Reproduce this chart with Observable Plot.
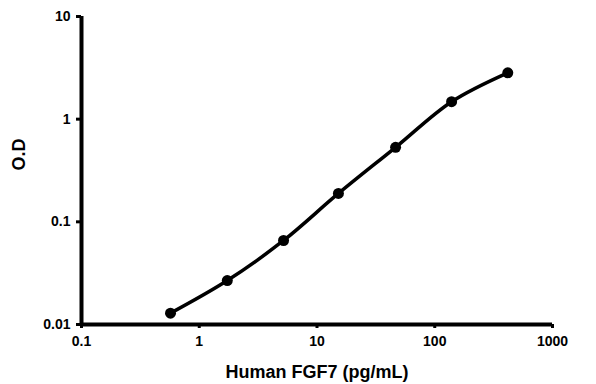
<!DOCTYPE html>
<html><head><meta charset="utf-8">
<script src="https://cdn.jsdelivr.net/npm/d3@7"></script>
<script src="https://cdn.jsdelivr.net/npm/@observablehq/plot@0.6"></script>
<style>
body{margin:0;background:#fff;}
svg{font-family:"Liberation Sans",Arial,sans-serif;}
</style></head><body>
<div id="chart"></div>
<script>
const concentration = [0.57, 1.73, 5.2, 15.2, 46.5, 139, 417];
const od = [0.0129, 0.0268, 0.0658, 0.189, 0.532, 1.48, 2.83];
const xTicks = [0.1, 1, 10, 100, 1000];
const yTicks = [0.01, 0.1, 1, 10];
const data = concentration.map((c, i) => ({c, od: od[i]}));

const chart = Plot.plot({
  width: 596, height: 384,
  marginLeft: 81, marginRight: 44, marginTop: 16, marginBottom: 60,
  style: {fontFamily: '"Liberation Sans",Arial,sans-serif', fontWeight: "bold", fontSize: "14px", background: "#fff", color: "#000"},
  x: {type: "log", domain: [0.1, 1000], label: null},
  y: {type: "log", domain: [0.01, 10], label: null},
  marks: [
    Plot.axisX({ticks: xTicks, tickFormat: d => String(d), tickSize: 4, tickPadding: 8, strokeWidth: 3, fontSize: 14, fontWeight: "bold", label: null}),
    Plot.axisY({ticks: yTicks, tickFormat: d => String(d), tickSize: 5, tickPadding: 6, strokeWidth: 3, fontSize: 14, fontWeight: "bold", label: null}),
    Plot.ruleY([0.01], {stroke: "#000", strokeWidth: 4}),
    Plot.ruleX([0.1], {stroke: "#000", strokeWidth: 4}),
    Plot.line(data, {x: "c", y: "od", curve: "catmull-rom", stroke: "#000", strokeWidth: 3.5}),
    Plot.dot(data, {x: "c", y: "od", r: 5.5, fill: "#000", stroke: "none"}),
    Plot.text(["Human FGF7 (pg/mL)"], {frameAnchor: "bottom", dy: 53, fontSize: 18, fontWeight: "bold", fill: "#000"}),
    Plot.text(["O.D"], {frameAnchor: "left", dx: -62, rotate: -90, fontSize: 18, fontWeight: "bold", fill: "#000"})
  ]
});
document.getElementById("chart").appendChild(chart);
</script>
</body></html>
